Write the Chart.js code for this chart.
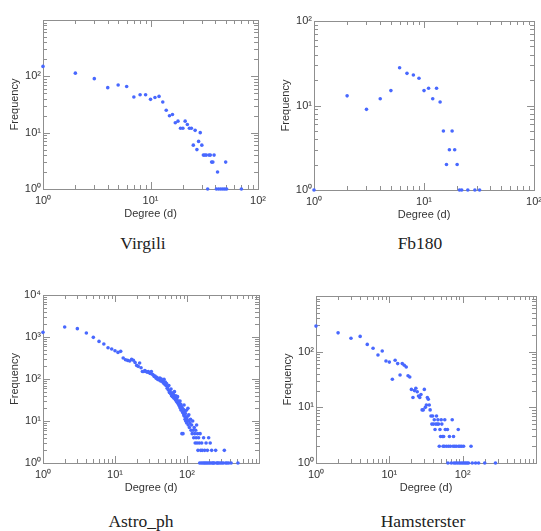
<!DOCTYPE html>
<html>
<head>
<meta charset="utf-8">
<script src="https://cdn.jsdelivr.net/npm/chart.js@4.4.0/dist/chart.umd.min.js"></script>
<style>
  body { margin: 0; background: #fff; width: 541px; height: 531px; position: relative; overflow: hidden; }
  canvas { position: absolute; }
  .caption {
    position: absolute; width: 200px; text-align: center;
    font-family: "Liberation Serif", "Times New Roman", serif;
    font-size: 17.5px; line-height: 20px; color: #222;
  }
</style>
</head>
<body>
<canvas id="virgiliChart"></canvas>
<canvas id="fbChart"></canvas>
<canvas id="astroChart"></canvas>
<canvas id="hamsterChart"></canvas>
<div class="caption" id="virgiliCaption"></div>
<div class="caption" id="fbCaption"></div>
<div class="caption" id="astroCaption"></div>
<div class="caption" id="hamsterCaption"></div>
<script>
// degree distributions
const virgiliDegree = [1,2,3,4,5,6,7,8,9,10,11,12,13,14,15,16,17,18,19,20,21,22,23,24,25,26,27,28,29,30,31,32,33,34,35,36,37,38,39,41,42,43,45,47,49,50,51,70];
const virgiliFreq = [150,114,91,63,70,66,43,47,47,39,42,44,35,25,20,21,15,16,12,12,16,14,12,12,6,11,5,7,10,6,4,4,4,1,4,4,3,3,4,1,2,1,1,1,1,3,1,1];

const fbDegree = [1,2,3,4,5,6,7,8,9,10,11,12,13,14,15,16,17,18,19,20,21,22,25,29,32];
const fbFreq = [1,13,9,12,15,28,24,23,21,15,16,12,16,11,5,2,3,5,3,2,1,1,1,1,1];

const astroDegree = [1,2,3,4,5,6,7,8,9,10,11,12,13,14,15,16,17,18,19,20,
  21,22,23,24,25,26,27,28,29,30,31,32,33,34,35,36,37,38,39,40,
  41,42,43,44,45,46,47,48,49,50,51,52,53,54,55,56,57,58,59,60,
  61,62,63,64,65,66,67,68,69,70,71,72,73,74,75,76,77,78,79,80,
  81,82,83,84,85,86,87,88,89,90,91,92,93,94,95,96,97,98,99,100,
  102,103,104,105,106,108,110,112,114,116,118,120,122,124,126,128,130,132,134,136,
  138,140,142,145,148,150,152,155,158,160,163,166,170,173,176,180,184,188,192,196,
  200,205,210,215,220,226,232,240,250,258,266,276,290,305,320,330,345,360,380,410,510];
const astroFreq = [1290,1730,1580,1250,980,785,680,556,518,472,430,455,316,288,277,268,293,280,248,211,
  200,240,185,151,151,160,151,145,151,140,135,150,130,125,115,118,105,110,98,102,
  95,105,90,100,88,92,80,98,75,85,70,78,60,65,55,70,48,52,45,58,
  40,47,38,44,42,35,50,36,32,40,30,34,28,38,26,30,24,27,22,30,
  20,25,18,22,5,20,16,5,19,14,24,13,17,11,15,10,12,18,9,11,
  13,20,8,10,14,7,9,11,6,8,5,10,6,4,7,5,3,6,4,8,
  3,5,2,4,3,1,5,2,1,3,2,1,4,1,2,1,3,1,2,1,
  4,1,3,1,2,1,1,1,2,1,1,1,1,1,1,2,1,1,1,1,1];

const hamsterDegree = [1,2,3,4,5,6,7,8,9,10,11,12,13,14,15,16,17,18,19,20,
  21,22,23,24,25,26,27,28,29,30,31,32,33,34,35,36,37,38,39,40,
  41,42,43,44,45,46,47,48,49,50,51,52,53,54,55,56,57,58,60,62,
  63,64,66,68,70,72,74,75,76,78,80,82,85,87,88,90,92,95,97,100,
  103,105,110,115,120,130,135,150,165,200,280];
const hamsterFreq = [288,218,174,188,135,115,87,103,68,65,32,70,61,38,61,57,53,37,35,21,
  15,20,22,19,16,15,17,9,9,21,10,11,15,14,11,9,7,5,7,5,
  6,4,5,7,5,6,5,2,4,3,6,5,3,2,3,2,6,4,2,4,
  1,2,3,2,1,6,2,3,1,2,1,2,1,4,2,1,2,1,2,1,
  2,1,1,1,1,2,1,1,1,1,1];

// axis decades and their labels
const decadeValues = [1, 10, 100, 1000, 10000];
const decadeLabels = ['10⁰', '10¹', '10²', '10³', '10⁴'];

const virgiliXLabels = ['10⁰', '10¹', '10²'];
const virgiliYLabels = ['10⁰', '10¹', '10²'];
const fbXLabels = ['10⁰', '10¹', '10²'];
const fbYLabels = ['10⁰', '10¹', '10²'];
const astroXLabels = ['10⁰', '10¹', '10²'];
const astroYLabels = ['10⁰', '10¹', '10²', '10³', '10⁴'];
const hamsterXLabels = ['10⁰', '10¹', '10²'];
const hamsterYLabels = ['10⁰', '10¹', '10²'];

const captions = ['Virgili', 'Fb180', 'Astro_ph', 'Hamsterster'];

const Y_AXIS_W = 43;
const X_AXIS_H = 42;
const PAD_TOP = 12;
const PAD_RIGHT = 12;
const DOT = 'rgb(72,104,255)';
const AXIS_GREY = '#8f8f8f';
const TEXT = '#333';

const panels = [
  { id: 'virgiliChart', cap: 'virgiliCaption', title: captions[0], degree: virgiliDegree, freq: virgiliFreq,
    xMax: 100, yMax: 1000, xLabels: virgiliXLabels, yLabels: virgiliYLabels,
    area: { left: 43, top: 20, right: 259, bottom: 189 }, capX: 143, capBase: 248.5 },
  { id: 'fbChart', cap: 'fbCaption', title: captions[1], degree: fbDegree, freq: fbFreq,
    xMax: 100, yMax: 100, xLabels: fbXLabels, yLabels: fbYLabels,
    area: { left: 314, top: 21, right: 535, bottom: 190 }, capX: 420, capBase: 248.5 },
  { id: 'astroChart', cap: 'astroCaption', title: captions[2], degree: astroDegree, freq: astroFreq,
    xMax: 1000, yMax: 10000, xLabels: astroXLabels, yLabels: astroYLabels,
    area: { left: 43, top: 295, right: 259, bottom: 463 }, capX: 141, capBase: 527 },
  { id: 'hamsterChart', cap: 'hamsterCaption', title: captions[3], degree: hamsterDegree, freq: hamsterFreq,
    xMax: 1000, yMax: 1000, xLabels: hamsterXLabels, yLabels: hamsterYLabels,
    area: { left: 316, top: 296, right: 536, bottom: 463 }, capX: 423, capBase: 527 }
];

// 1..9 per decade, like the minor ticks of the original
function logTicks(scale) {
  const out = [];
  for (let dec = scale.min; dec < scale.max; dec *= 10) {
    for (let m = 1; m < 10; m++) out.push({ value: m * dec });
  }
  out.push({ value: scale.max });
  scale.ticks = out;
}

function decadeLabel(shown) {
  return function (value) {
    const i = decadeValues.indexOf(value);
    return i >= 0 && shown.includes(decadeLabels[i]) ? decadeLabels[i] : '';
  };
}

// grey box with inward ticks on all four sides
const frameTicks = {
  id: 'frameTicks',
  beforeDatasetsDraw(chart) {
    const { ctx, chartArea: a, scales: { x, y } } = chart;
    ctx.save();
    ctx.strokeStyle = AXIS_GREY;
    ctx.lineWidth = 1;
    ctx.beginPath();
    x.ticks.forEach(t => {
      const px = Math.round(x.getPixelForValue(t.value)) + 0.5;
      const len = decadeValues.includes(t.value) ? 7 : 4;
      ctx.moveTo(px, a.bottom); ctx.lineTo(px, a.bottom - len);
      ctx.moveTo(px, a.top); ctx.lineTo(px, a.top + len);
    });
    y.ticks.forEach(t => {
      const py = Math.round(y.getPixelForValue(t.value)) + 0.5;
      const len = decadeValues.includes(t.value) ? 7 : 4;
      ctx.moveTo(a.left, py); ctx.lineTo(a.left + len, py);
      ctx.moveTo(a.right, py); ctx.lineTo(a.right - len, py);
    });
    ctx.stroke();
    ctx.strokeRect(Math.round(a.left) + 0.5, Math.round(a.top) + 0.5,
      Math.round(a.right - a.left), Math.round(a.bottom - a.top));
    ctx.restore();
  }
};

function makeChart(p) {
  const canvas = document.getElementById(p.id);
  const a = p.area;
  const w = a.right - a.left + Y_AXIS_W + PAD_RIGHT;
  const h = a.bottom - a.top + PAD_TOP + X_AXIS_H;
  canvas.width = w;
  canvas.height = h;
  canvas.style.width = w + 'px';
  canvas.style.height = h + 'px';
  canvas.style.left = (a.left - Y_AXIS_W) + 'px';
  canvas.style.top = (a.top - PAD_TOP) + 'px';

  const cap = document.getElementById(p.cap);
  cap.textContent = p.title;
  cap.style.left = (p.capX - 100) + 'px';
  cap.style.top = (p.capBase - 16) + 'px';

  const tickFont = { family: '"Liberation Sans", Arial, sans-serif', size: 11 };
  const titleFont = { family: '"Liberation Sans", Arial, sans-serif', size: 11 };

  return new Chart(canvas, {
    type: 'scatter',
    data: {
      datasets: [{
        data: p.degree.map((d, i) => ({ x: d, y: p.freq[i] })),
        pointRadius: 1.8,
        pointBorderWidth: 0,
        pointBackgroundColor: DOT,
        clip: false
      }]
    },
    options: {
      responsive: false,
      animation: false,
      events: [],
      layout: { padding: { top: PAD_TOP, right: PAD_RIGHT, left: 0, bottom: 0 } },
      plugins: { legend: { display: false }, tooltip: { enabled: false } },
      scales: {
        x: {
          type: 'logarithmic', min: 1, max: p.xMax,
          afterBuildTicks: logTicks,
          afterFit: s => { s.height = X_AXIS_H; },
          grid: { display: false, drawTicks: false },
          border: { display: false },
          ticks: { autoSkip: false, maxRotation: 0, minRotation: 0, padding: 5,
            font: tickFont, color: TEXT, callback: decadeLabel(p.xLabels) },
          title: { display: true, text: 'Degree (d)', font: titleFont, color: TEXT,
            padding: { top: 0, bottom: 10 } }
        },
        y: {
          type: 'logarithmic', min: 1, max: p.yMax,
          afterBuildTicks: logTicks,
          afterFit: s => { s.width = Y_AXIS_W; },
          grid: { display: false, drawTicks: false },
          border: { display: false },
          ticks: { autoSkip: false, padding: 2, font: tickFont, color: TEXT,
            callback: decadeLabel(p.yLabels) },
          title: { display: true, text: 'Frequency', font: titleFont, color: TEXT,
            padding: { top: 8, bottom: 0 } }
        }
      }
    },
    plugins: [frameTicks]
  });
}

panels.forEach(makeChart);
</script>
</body>
</html>
